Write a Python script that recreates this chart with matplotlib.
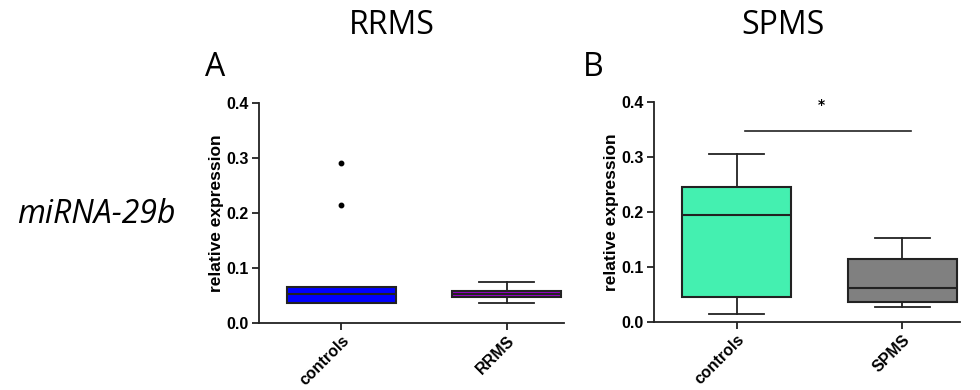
import matplotlib.pyplot as plt

# box statistics (relative expression)
groups_a = ["controls", "RRMS"]
med_a = [0.052, 0.053]
q1_a = [0.036, 0.047]
q3_a = [0.066, 0.058]
wlo_a = [0.036, 0.036]
whi_a = [0.066, 0.075]
outliers_a = [[0.215, 0.290], []]
colors_a = ["#0000ff", "#9a00cc"]

groups_b = ["controls", "SPMS"]
med_b = [0.195, 0.062]
q1_b = [0.045, 0.036]
q3_b = [0.245, 0.115]
wlo_b = [0.014, 0.028]
whi_b = [0.306, 0.153]
outliers_b = [[], []]
colors_b = ["#44f0b0", "#808080"]

sig_y = 0.348

TICKFONT = dict(fontweight="bold", fontsize=11.5, family="Liberation Sans")


def panel(ax, groups, med, q1, q3, wlo, whi, fliers, colors):
    stats = []
    for i in range(len(groups)):
        stats.append(dict(med=med[i], q1=q1[i], q3=q3[i], whislo=wlo[i],
                          whishi=whi[i], fliers=fliers[i], label=groups[i]))
    bp = ax.bxp(stats, positions=range(len(groups)), widths=0.66, patch_artist=True,
                showfliers=True,
                boxprops=dict(edgecolor="#222222", linewidth=1.5),
                medianprops=dict(color="#222222", linewidth=1.5),
                whiskerprops=dict(color="#222222", linewidth=1.3),
                capprops=dict(color="#222222", linewidth=1.3),
                flierprops=dict(marker="o", markerfacecolor="black",
                                markeredgecolor="black", markersize=3.2))
    for patch, c in zip(bp["boxes"], colors):
        patch.set_facecolor(c)
    for cap in bp["caps"]:
        x = cap.get_xdata()
        m = (x[0] + x[1]) / 2
        cap.set_xdata([m - 0.165, m + 0.165])
    ax.set_xlim(-0.5, 1.35)
    ax.set_ylim(0, 0.4)
    ax.set_yticks([0.0, 0.1, 0.2, 0.3, 0.4])
    ax.set_yticklabels(["0.0", "0.1", "0.2", "0.3", "0.4"], **TICKFONT)
    ax.set_xticks(range(len(groups)))
    ax.set_xticklabels(groups, rotation=45, ha="right", rotation_mode="anchor", **TICKFONT)
    ax.set_ylabel("relative expression", fontweight="bold", fontsize=12.5,
                  family="Liberation Sans", labelpad=2)
    ax.spines["top"].set_visible(False)
    ax.spines["right"].set_visible(False)
    for s in ["left", "bottom"]:
        ax.spines[s].set_linewidth(1.3)
        ax.spines[s].set_color("#222222")
    ax.tick_params(direction="out", length=5, width=1.3, color="#222222", pad=2)
    ax.patch.set_alpha(0)


fig = plt.figure(figsize=(9.8, 3.9), dpi=100)
ax1 = fig.add_axes([0.264, 0.172, 0.312, 0.564])
ax2 = fig.add_axes([0.667, 0.174, 0.313, 0.564])

panel(ax1, groups_a, med_a, q1_a, q3_a, wlo_a, whi_a, outliers_a, colors_a)
panel(ax2, groups_b, med_b, q1_b, q3_b, wlo_b, whi_b, outliers_b, colors_b)

# significance bar
ax2.plot([0.05, 1.05], [sig_y, sig_y], color="#222222", linewidth=1.2, clip_on=False)
ax2.text(0.51, 0.395, "*", ha="center", va="center", fontsize=10, fontweight="bold",
         clip_on=False)

title_font = dict(fontsize=23, family="Open Sans")
fig.text(392 / 980, 1 - 25 / 390, "RRMS", ha="center", va="center", **title_font)
fig.text(783 / 980, 1 - 25 / 390, "SPMS", ha="center", va="center", **title_font)
fig.text(215 / 980, 1 - 67 / 390, "A", ha="center", va="center", **title_font)
fig.text(593 / 980, 1 - 67 / 390, "B", ha="center", va="center", **title_font)
fig.text(96 / 980, 1 - 214 / 390, "miRNA-29b", ha="center", va="center",
         style="italic", **title_font)

fig.savefig("out.png", dpi=100)
